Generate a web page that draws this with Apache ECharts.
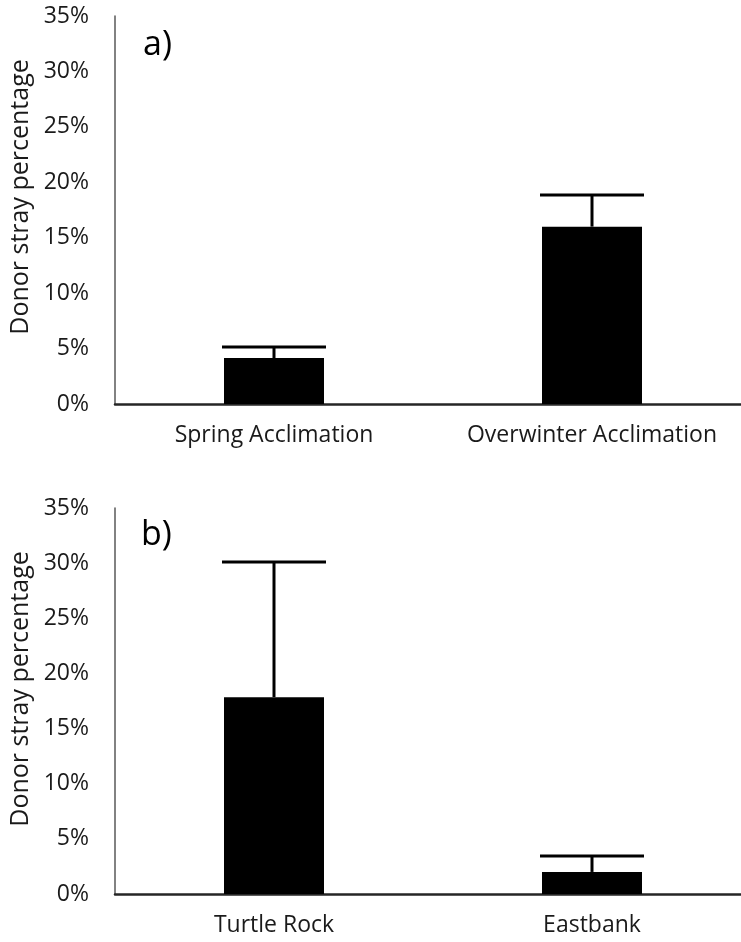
<!DOCTYPE html>
<html><head><meta charset="utf-8">
<script src="https://cdn.jsdelivr.net/npm/echarts@6/dist/echarts.min.js"></script>
<style>html,body{margin:0;padding:0;background:#fff}#c{width:741px;height:942px}</style>
</head><body><div id="c"></div>
<script>
const categoriesA = ['Spring Acclimation', 'Overwinter Acclimation'];
const valuesA = [4.15, 16.0];
const upperA = [5.14, 18.85];
const categoriesB = ['Turtle Rock', 'Eastbank'];
const valuesB = [17.85, 2.0];
const upperB = [30.1, 3.45];
const yTicks = [0, 5, 10, 15, 20, 25, 30, 35];
const yTitle = 'Donor stray percentage';
const panelLabels = ['a)', 'b)'];

const FONT = 'Open Sans';
const chart = echarts.init(document.getElementById('c'), null, {renderer: 'canvas'});

function errSeries(idx, vals, ups) {
  return {
    type: 'custom', xAxisIndex: idx, yAxisIndex: idx, z: 5,
    data: vals.map((v, i) => [i, v, ups[i]]),
    renderItem: function (params, api) {
      const p0 = api.coord([api.value(0), api.value(1)]);
      const p1 = api.coord([api.value(0), api.value(2)]);
      const hw = 52;
      const st = {stroke: '#000', lineWidth: 3};
      return {type: 'group', children: [
        {type: 'line', shape: {x1: p0[0], y1: p0[1], x2: p1[0], y2: p1[1]}, style: st},
        {type: 'line', shape: {x1: p1[0] - hw, y1: p1[1], x2: p1[0] + hw, y2: p1[1]}, style: st}
      ]};
    }
  };
}

function yAxis(idx) {
  return {
    type: 'value', gridIndex: idx, min: 0, max: 35, interval: 5,
    splitLine: {show: false},
    axisTick: {show: false},
    axisLine: {show: true, lineStyle: {color: '#595959', width: 1.5}},
    axisLabel: {color: '#1a1a1a', fontFamily: FONT, fontSize: 23, margin: 26,
      formatter: v => yTicks.includes(v) ? v + '%' : ''}
  };
}
function xAxis(idx, cats) {
  return {
    type: 'category', gridIndex: idx, data: cats,
    axisTick: {show: false},
    axisLine: {show: true, lineStyle: {color: '#262626', width: 2.5}},
    axisLabel: {color: '#1a1a1a', fontFamily: FONT, fontSize: 23, margin: 20, interval: 0, hideOverlap: false}
  };
}

chart.setOption({
  animation: false,
  backgroundColor: '#fff',
  grid: [
    {left: 115, top: 16, width: 636, height: 388, outerBoundsMode: 'none', containLabel: false},
    {left: 115, top: 508, width: 636, height: 386, outerBoundsMode: 'none', containLabel: false}
  ],
  xAxis: [xAxis(0, categoriesA), xAxis(1, categoriesB)],
  yAxis: [yAxis(0), yAxis(1)],
  graphic: [
    {type: 'text', left: 143, top: 28, style: {text: panelLabels[0], font: '34px "Open Sans"', fill: '#000'}},
    {type: 'text', left: 141, top: 518, style: {text: panelLabels[1], font: '34px "Open Sans"', fill: '#000'}},
    {type: 'text', x: 21, y: 197, rotation: Math.PI / 2, style: {text: yTitle, font: '25px "Open Sans"', fill: '#1a1a1a', align: 'center', verticalAlign: 'middle'}},
    {type: 'text', x: 21, y: 689, rotation: Math.PI / 2, style: {text: yTitle, font: '25px "Open Sans"', fill: '#1a1a1a', align: 'center', verticalAlign: 'middle'}}
  ],
  series: [
    {type: 'bar', xAxisIndex: 0, yAxisIndex: 0, data: valuesA, barWidth: 100, itemStyle: {color: '#000'}},
    errSeries(0, valuesA, upperA),
    {type: 'bar', xAxisIndex: 1, yAxisIndex: 1, data: valuesB, barWidth: 100, itemStyle: {color: '#000'}},
    errSeries(1, valuesB, upperB)
  ]
});
</script></body></html>
